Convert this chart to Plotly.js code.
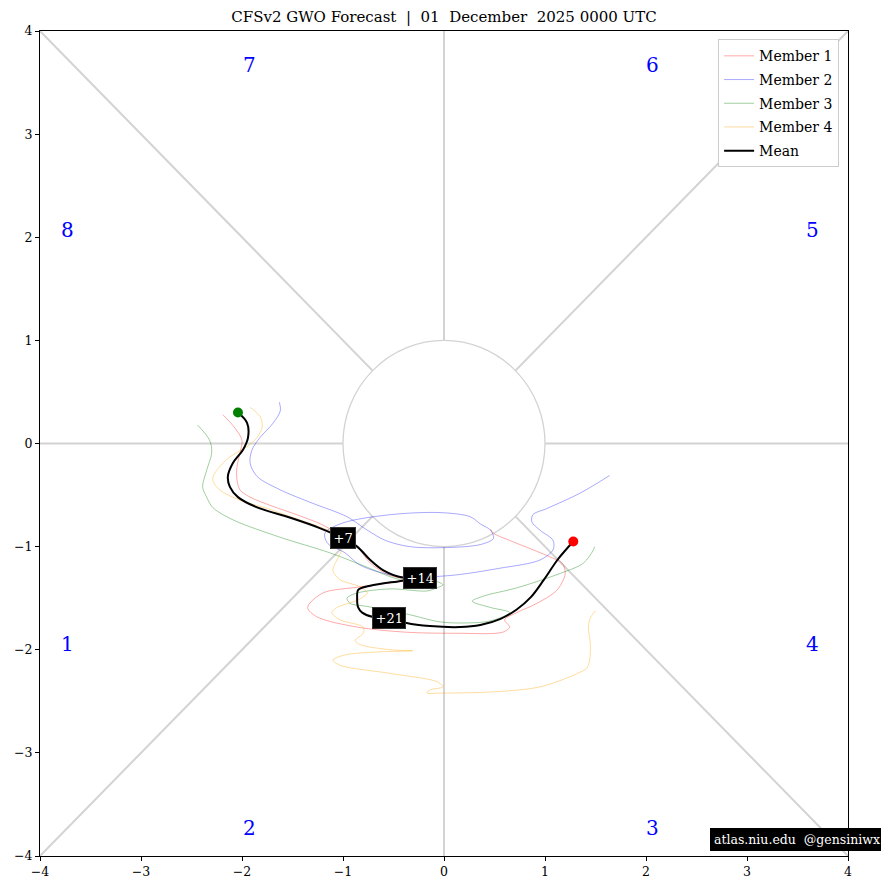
<!DOCTYPE html>
<html>
<head>
<meta charset="utf-8">
<script src="https://cdn.plot.ly/plotly-3.0.1.min.js"></script>
<style>html,body{margin:0;padding:0;background:#fff;}#chart{width:881px;height:890px;}</style>
</head>
<body>
<div id="chart"></div>
<script>
// ---- Data ----
const m1x = [-2.19,-2.07,-2.00,-2.02,-2.05,-2.05,-2.02,-1.92,-1.72,-1.46,-1.20,-1.00,-0.86,-0.73,-0.56,-0.41,-0.83,-1.20,-1.35,-1.26,-0.86,-0.37,0.13,0.58,0.65,0.60,0.72,0.92,1.12,1.20,1.17,1.05,0.88,0.65,0.49,0.46];
const m1y = [0.28,0.15,0.03,-0.09,-0.23,-0.35,-0.45,-0.52,-0.60,-0.69,-0.79,-0.91,-1.00,-1.16,-1.27,-1.32,-1.39,-1.45,-1.59,-1.68,-1.78,-1.83,-1.84,-1.83,-1.78,-1.71,-1.64,-1.55,-1.42,-1.26,-1.16,-1.10,-1.03,-0.94,-0.87,-0.83];

const m2x = [-1.63,-1.62,-1.69,-1.82,-1.90,-1.92,-1.85,-1.62,-1.30,-0.96,-0.76,-0.58,-0.34,-0.01,0.36,0.49,0.46,0.36,0.26,-0.04,-0.53,-1.00,-1.18,-1.15,-0.98,-0.83,-0.44,0.06,0.55,0.95,1.08,1.08,0.95,0.87,0.88,1.02,1.35,1.64];
const m2y = [0.40,0.32,0.20,0.06,-0.06,-0.19,-0.32,-0.45,-0.58,-0.71,-0.84,-0.94,-1.00,-1.01,-0.98,-0.92,-0.84,-0.78,-0.71,-0.67,-0.69,-0.77,-0.87,-0.97,-1.06,-1.18,-1.29,-1.28,-1.21,-1.13,-1.03,-0.94,-0.84,-0.76,-0.69,-0.63,-0.48,-0.31];

const m3x = [-2.44,-2.32,-2.30,-2.35,-2.39,-2.35,-2.29,-2.09,-1.62,-1.13,-0.76,-0.44,-0.07,-0.01,-0.07,-0.17,-0.53,-0.86,-0.96,-0.93,-0.76,-0.34,-0.04,0.23,0.46,0.65,0.46,0.28,0.39,0.72,1.15,1.38,1.48,1.49];
const m3y = [0.18,0.03,-0.09,-0.26,-0.42,-0.52,-0.62,-0.74,-0.91,-1.06,-1.20,-1.32,-1.34,-1.37,-1.40,-1.43,-1.41,-1.45,-1.50,-1.55,-1.58,-1.66,-1.73,-1.74,-1.72,-1.64,-1.59,-1.53,-1.48,-1.40,-1.26,-1.16,-1.03,-1.00];

const m4x = [-1.92,-1.82,-1.80,-1.85,-1.95,-2.12,-2.25,-2.29,-2.22,-2.02,-1.75,-1.52,-1.23,-1.00,-1.00,-1.06,-1.10,-1.03,-0.83,-0.76,-0.86,-1.06,-1.11,-1.03,-0.80,-0.80,-0.88,-0.83,-0.53,-0.31,-0.63,-0.98,-1.10,-1.03,-0.53,-0.07,-0.01,-0.14,-0.17,-0.04,0.46,0.95,1.32,1.42,1.45,1.43,1.45,1.50];
const m4y = [0.35,0.26,0.16,0.06,-0.03,-0.13,-0.26,-0.35,-0.45,-0.55,-0.63,-0.71,-0.81,-0.91,-1.00,-1.13,-1.23,-1.32,-1.39,-1.45,-1.52,-1.59,-1.64,-1.71,-1.78,-1.84,-1.91,-1.95,-2.00,-2.01,-2.02,-2.05,-2.10,-2.15,-2.23,-2.31,-2.36,-2.39,-2.42,-2.42,-2.41,-2.36,-2.23,-2.17,-1.97,-1.78,-1.69,-1.62];

const meanX = [-2.04,-1.95,-1.94,-1.99,-2.09,-2.14,-2.12,-2.04,-1.85,-1.52,-1.23,-1.00,-0.86,-0.73,-0.60,-0.41,-0.24,-0.41,-0.73,-0.85,-0.86,-0.85,-0.81,-0.71,-0.54,-0.37,-0.14,0.16,0.36,0.56,0.72,0.86,0.99,1.13,1.28];
const meanY = [0.30,0.20,0.06,-0.06,-0.19,-0.32,-0.42,-0.52,-0.62,-0.72,-0.82,-0.92,-1.00,-1.13,-1.23,-1.30,-1.30,-1.33,-1.38,-1.42,-1.49,-1.59,-1.64,-1.68,-1.69,-1.74,-1.77,-1.78,-1.76,-1.70,-1.61,-1.49,-1.32,-1.12,-0.95];

const dayLabels = ['+7','+14','+21'];
const dayIdx = [11, 16, 24];

const phaseText = ['1','2','3','4','5','6','7','8'];
const phaseX = [-3.73,-1.93,2.06,3.65,3.65,2.06,-1.93,-3.73];
const phaseY = [-1.94,-3.73,-3.73,-1.94,2.07,3.67,3.67,2.07];

const tickVals = [-4,-3,-2,-1,0,1,2,3,4];
const tickText = ['\u22124','\u22123','\u22122','\u22121','0','1','2','3','4'];

const FONT = 'DejaVu Serif, Liberation Serif, serif';

// ---- Traces ----
const memberStyle = (c) => ({type:'scatter', mode:'lines', line:{color:c, width:0.75, shape:'spline', smoothing:0.9}, hoverinfo:'skip'});
const traces = [
  Object.assign(memberStyle('rgba(255,0,0,0.45)'), {x:m1x, y:m1y, name:'Member 1', legendgroup:'a'}),
  Object.assign(memberStyle('rgba(0,0,255,0.45)'), {x:m2x, y:m2y, name:'Member 2', legendgroup:'b'}),
  Object.assign(memberStyle('rgba(0,128,0,0.5)'), {x:m3x, y:m3y, name:'Member 3', legendgroup:'c'}),
  Object.assign(memberStyle('rgba(255,165,0,0.5)'), {x:m4x, y:m4y, name:'Member 4', legendgroup:'d'}),
  {type:'scatter', mode:'lines', x:meanX, y:meanY, name:'Mean', legendgroup:'e', line:{color:'black', width:2, shape:'spline', smoothing:1}},
  {type:'scatter', mode:'markers', x:[meanX[0]], y:[meanY[0]], marker:{color:'green', size:10}, showlegend:false},
  {type:'scatter', mode:'markers', x:[meanX[meanX.length-1]], y:[meanY[meanY.length-1]], marker:{color:'red', size:10}, showlegend:false}
];

// ---- Guide shapes ----
const g = 'rgb(211,211,211)';
const d = Math.SQRT1_2;
const shapes = [
  {type:'circle', xref:'x', yref:'y', x0:-1, x1:1, y0:-1, y1:1, line:{color:g, width:1.3}, layer:'below'},
  {type:'line', x0:-4, x1:-1, y0:0, y1:0, line:{color:g, width:2}, layer:'below'},
  {type:'line', x0:1, x1:4, y0:0, y1:0, line:{color:g, width:2}, layer:'below'},
  {type:'line', x0:0, x1:0, y0:1, y1:4, line:{color:g, width:2}, layer:'below'},
  {type:'line', x0:0, x1:0, y0:-1, y1:-4, line:{color:g, width:2}, layer:'below'},
  {type:'line', x0:d, x1:4, y0:d, y1:4, line:{color:g, width:2}, layer:'below'},
  {type:'line', x0:-d, x1:-4, y0:d, y1:4, line:{color:g, width:2}, layer:'below'},
  {type:'line', x0:d, x1:4, y0:-d, y1:-4, line:{color:g, width:2}, layer:'below'},
  {type:'line', x0:-d, x1:-4, y0:-d, y1:-4, line:{color:g, width:2}, layer:'below'}
];

// ---- Annotations ----
const annotations = [];
phaseText.forEach((t,i) => annotations.push({x:phaseX[i], y:phaseY[i], text:t, showarrow:false, font:{family:FONT, size:20, color:'blue'}}));
dayLabels.forEach((t,i) => annotations.push({x:meanX[dayIdx[i]], y:meanY[dayIdx[i]], text:t, showarrow:false,
  font:{family:FONT, size:13, color:'white'}, bgcolor:'black', bordercolor:'#333', borderpad:2.5}));
annotations.push({xref:'paper', yref:'paper', x:0.937, y:0.0194, xanchor:'center', yanchor:'middle', text:'atlas.niu.edu  @gensiniwx',
  showarrow:false, font:{family:FONT, size:12.5, color:'white'}, bgcolor:'black', bordercolor:'black', borderpad:3});

const axisBase = {range:[-4,4], showgrid:false, zeroline:false, showline:true, mirror:true, linecolor:'black', linewidth:1,
  ticks:'outside', ticklen:4, tickcolor:'black', tickvals:tickVals, ticktext:tickText, tickfont:{family:FONT, size:12.5, color:'black'}, fixedrange:true};

const layout = {
  width:881, height:890,
  margin:{l:40, r:33, t:31, b:34},
  paper_bgcolor:'white', plot_bgcolor:'white',
  font:{family:FONT, color:'black'},
  title:{text:'CFSv2 GWO Forecast  |  01  December  2025 0000 UTC', x:0.5, xref:'paper', y:0.981, yref:'container', yanchor:'middle', font:{family:FONT, size:15}},
  xaxis:Object.assign({}, axisBase),
  yaxis:Object.assign({}, axisBase),
  showlegend:true,
  legend:{x:0.989, y:0.99, xanchor:'right', yanchor:'top', bgcolor:'white', bordercolor:'rgb(204,204,204)', borderwidth:1,
    font:{family:FONT, size:14}, tracegroupgap:2.5, itemwidth:30},
  shapes:shapes,
  annotations:annotations
};

Plotly.newPlot('chart', traces, layout, {displayModeBar:false, staticPlot:true});
</script>
</body>
</html>
